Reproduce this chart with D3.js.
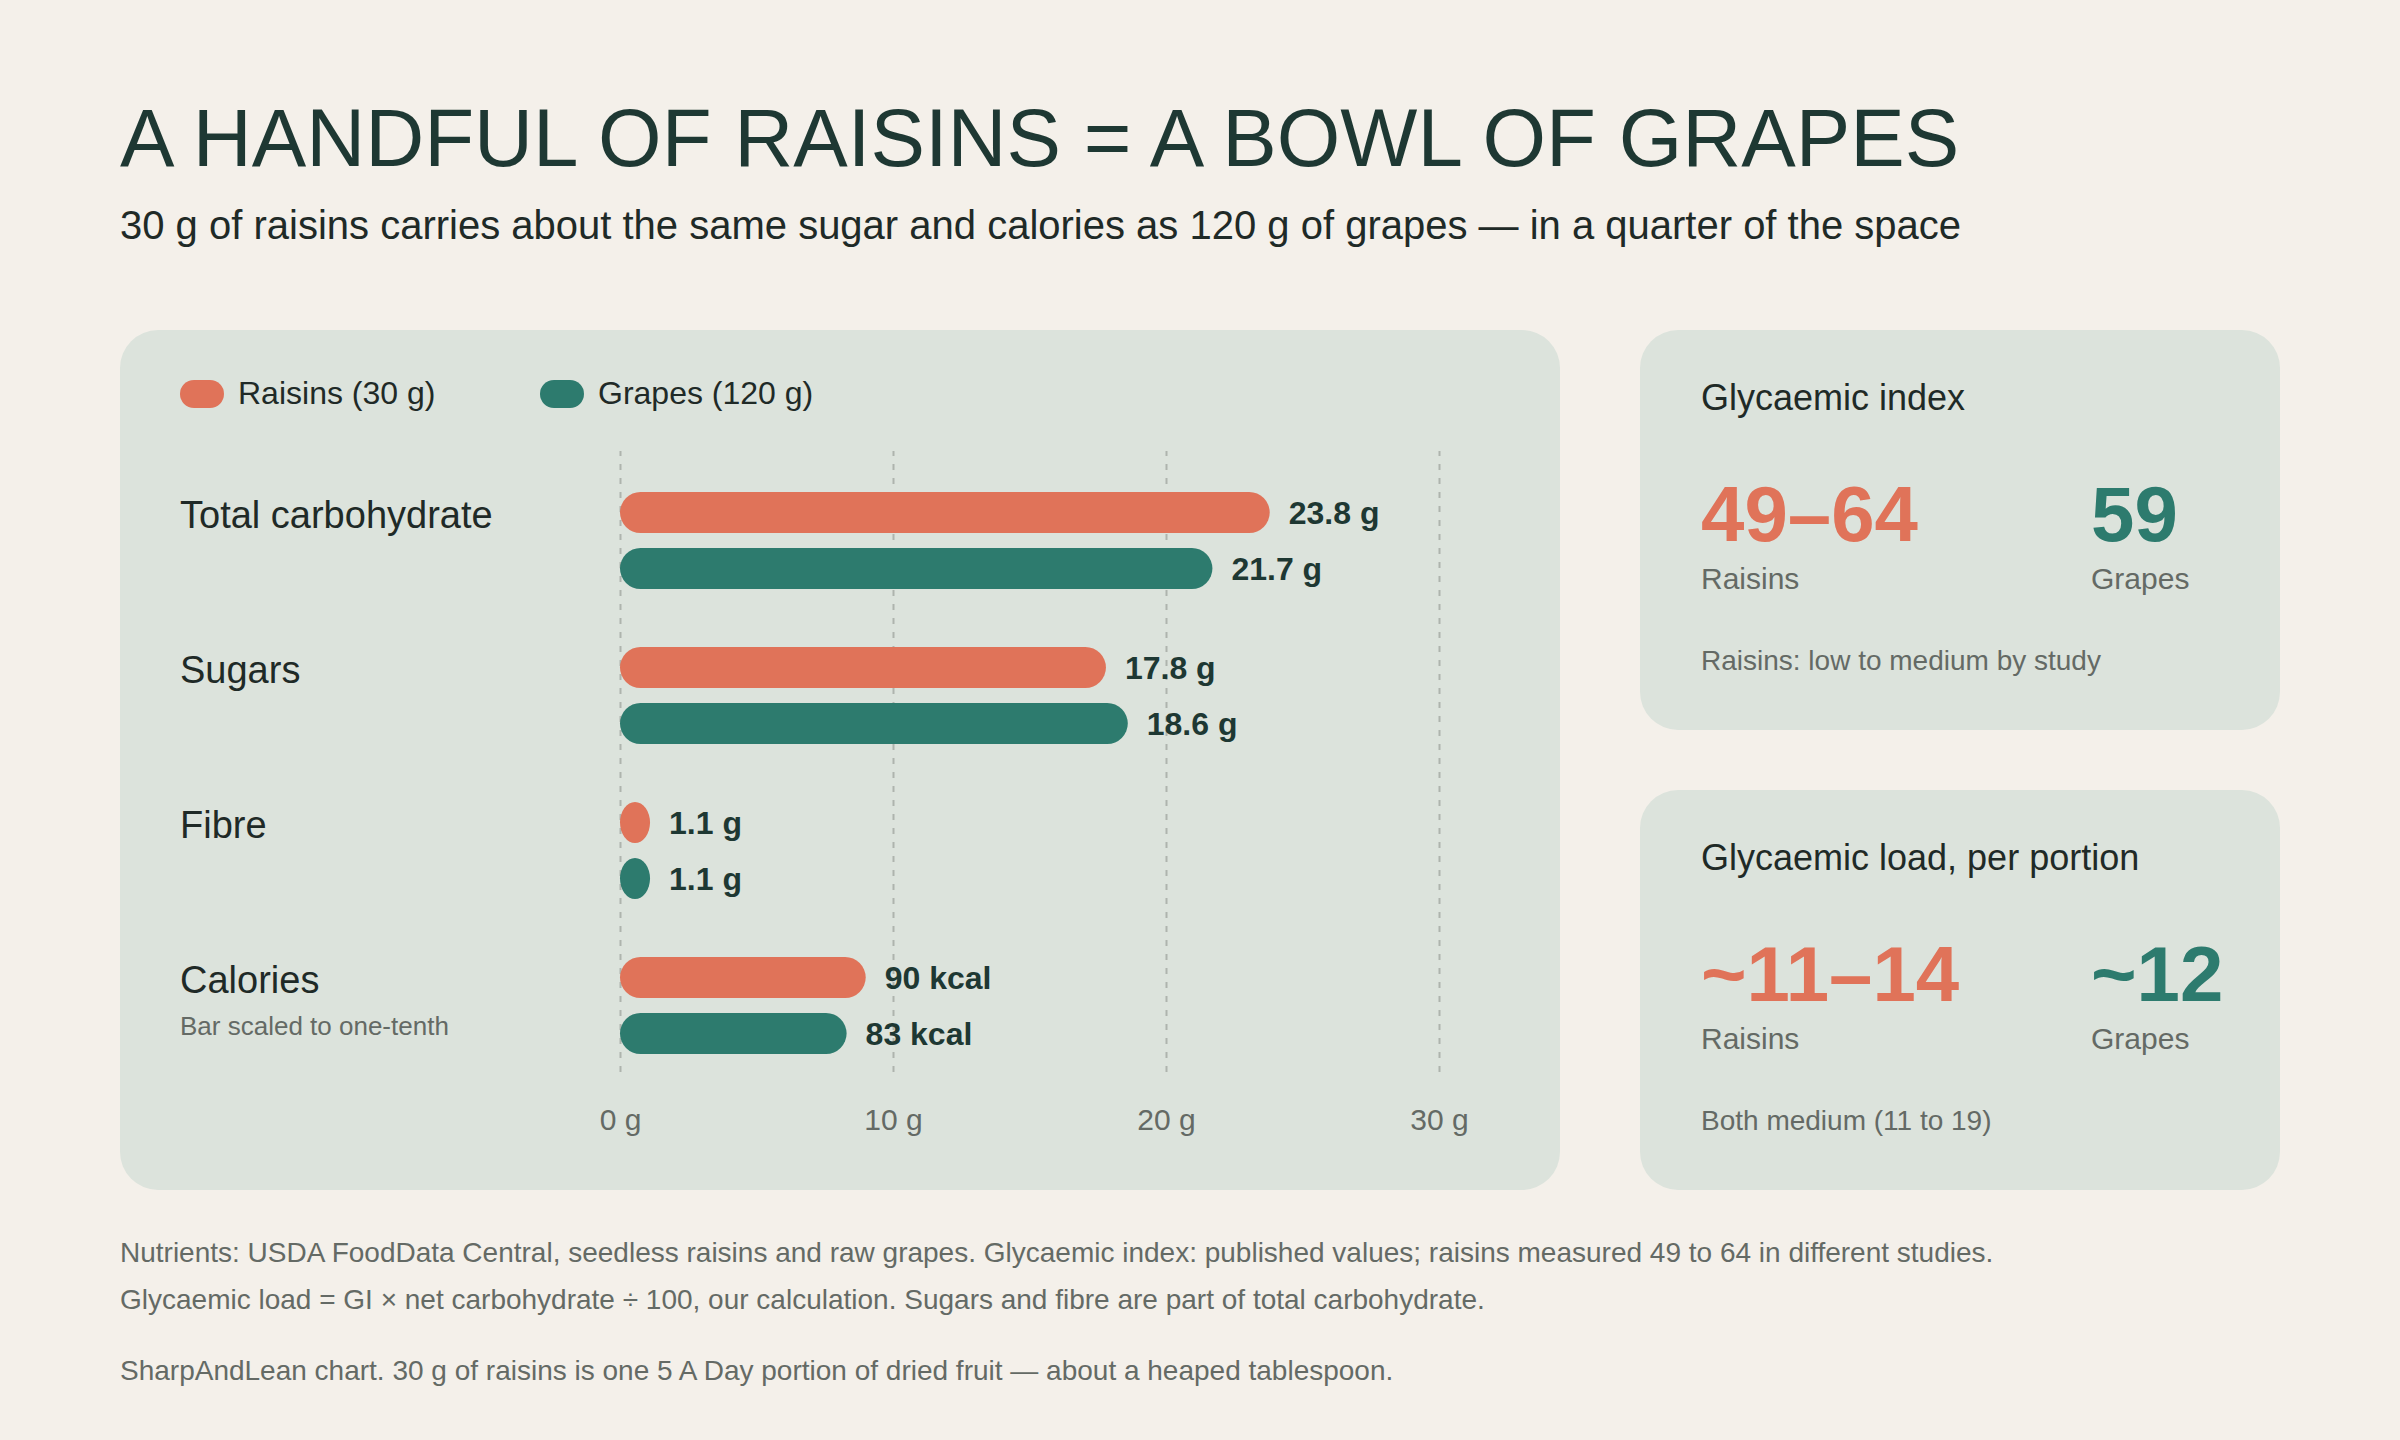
<!DOCTYPE html>
<html>
<head>
<meta charset="utf-8">
<script src="https://cdn.jsdelivr.net/npm/d3@7"></script>
<style>
  html, body { margin: 0; padding: 0; background: #F4F0EA; }
  svg { display: block; }
  text { font-family: "Liberation Sans", Arial, sans-serif; }
</style>
</head>
<body>
<svg id="chart" width="2400" height="1440"></svg>
<script>
// ---- Data ----
const categories = ["Total carbohydrate", "Sugars", "Fibre", "Calories"];
const categoryNotes = ["", "", "", "Bar scaled to one-tenth"];
const raisinValues = [23.8, 17.8, 1.1, 90];
const grapeValues = [21.7, 18.6, 1.1, 83];
const valueUnits = ["g", "g", "g", "kcal"];
const barFactors = [1, 1, 1, 0.1];
const seriesNames = ["Raisins (30 g)", "Grapes (120 g)"];
const xTicks = [0, 10, 20, 30];
const tickUnit = "g";

const cardTitles = ["Glycaemic index", "Glycaemic load, per portion"];
const cardRaisinValues = ["49–64", "~11–14"];
const cardGrapeValues = ["59", "~12"];
const cardNotes = ["Raisins: low to medium by study", "Both medium (11 to 19)"];

const titleText = "A HANDFUL OF RAISINS = A BOWL OF GRAPES";
const subtitleText = "30 g of raisins carries about the same sugar and calories as 120 g of grapes — in a quarter of the space";
const footerLines = [
  "Nutrients: USDA FoodData Central, seedless raisins and raw grapes. Glycaemic index: published values; raisins measured 49 to 64 in different studies.",
  "Glycaemic load = GI × net carbohydrate ÷ 100, our calculation. Sugars and fibre are part of total carbohydrate.",
  "SharpAndLean chart. 30 g of raisins is one 5 A Day portion of dried fruit — about a heaped tablespoon."
];

// ---- Style ----
const C = {
  bg: "#F4F0EA", panel: "#DCE3DC", coral: "#E07359", teal: "#2D7B6E",
  dark: "#1E3833", text: "#1F2A27", gray: "#646A65", grid: "#AEB4AD"
};

const svg = d3.select("#chart");
svg.append("rect").attr("width", 2400).attr("height", 1440).attr("fill", C.bg);

// Title & subtitle
svg.append("text").attr("x", 120).attr("y", 166)
  .attr("font-size", 81.7).attr("fill", C.dark).text(titleText);
svg.append("text").attr("x", 120).attr("y", 239)
  .attr("font-size", 40).attr("fill", C.text).text(subtitleText);

// Panels
svg.append("rect").attr("x", 120).attr("y", 330).attr("width", 1440).attr("height", 860)
  .attr("rx", 38).attr("fill", C.panel);
const cardTops = [330, 790];
svg.selectAll("rect.card").data(cardTops).join("rect").attr("class", "card")
  .attr("x", 1640).attr("y", d => d).attr("width", 640).attr("height", 400)
  .attr("rx", 38).attr("fill", C.panel);

// Legend
const legendColors = [C.coral, C.teal];
const legendX = [180, 540];
const lg = svg.selectAll("g.legend").data(seriesNames).join("g").attr("class", "legend")
  .attr("transform", (d, i) => `translate(${legendX[i]},380)`);
lg.append("rect").attr("width", 44).attr("height", 28).attr("rx", 14)
  .attr("fill", (d, i) => legendColors[i]);
lg.append("text").attr("x", 58).attr("y", 24).attr("font-size", 32)
  .attr("fill", C.text).text(d => d);

// Scales
const x = d3.scaleLinear().domain([0, 30]).range([620, 1439]);
const y = d3.scaleBand().domain(categories).range([492, 492 + 155 * categories.length]).padding(0);
const barH = 41, barGap = 56;

// Grid
const gridTop = 451, gridBottom = 1072;
const gridAxis = d3.axisBottom(x).tickValues(xTicks).tickSize(-(gridBottom - gridTop)).tickFormat("");
const gg = svg.append("g").attr("transform", `translate(0,${gridBottom})`).call(gridAxis);
gg.select(".domain").remove();
gg.selectAll(".tick line").attr("stroke", C.grid).attr("stroke-width", 2).attr("stroke-dasharray", "6 8");

// Axis labels
const labAxis = d3.axisBottom(x).tickValues(xTicks).tickSize(0).tickPadding(0)
  .tickFormat(d => `${d} ${tickUnit}`);
const la = svg.append("g").attr("transform", "translate(0,1130)").call(labAxis);
la.select(".domain").remove();
la.selectAll(".tick text").attr("dy", 0).attr("font-size", 30)
  .attr("font-family", '"Liberation Sans", Arial, sans-serif').attr("fill", C.gray);

// Category labels
const rows = categories.map((c, i) => ({
  cat: c, note: categoryNotes[i], unit: valueUnits[i], f: barFactors[i],
  vals: [raisinValues[i], grapeValues[i]]
}));
const rg = svg.selectAll("g.row").data(rows).join("g").attr("class", "row");
rg.append("text").attr("x", 180).attr("y", d => y(d.cat) + 36)
  .attr("font-size", 38).attr("fill", C.text).text(d => d.cat);
rg.filter(d => d.note).append("text").attr("x", 180).attr("y", d => y(d.cat) + 78)
  .attr("font-size", 26).attr("fill", C.gray).text(d => d.note);

// Bars
rg.each(function(d) {
  const g = d3.select(this);
  d.vals.forEach((v, k) => {
    const top = y(d.cat) + k * barGap;
    const w = x(v * d.f) - x(0);
    g.append("rect").attr("x", x(0)).attr("y", top).attr("width", w).attr("height", barH)
      .attr("rx", barH / 2).attr("ry", barH / 2).attr("fill", legendColors[k]);
    g.append("text").attr("x", x(v * d.f) + 19).attr("y", top + barH / 2 + 11)
      .attr("font-size", 32).attr("font-weight", "bold").attr("fill", C.dark)
      .text(`${v} ${d.unit}`);
  });
});

// Cards
const cards = cardTitles.map((t, i) => ({
  top: cardTops[i], title: t, r: cardRaisinValues[i], g: cardGrapeValues[i], note: cardNotes[i]
}));
const cg = svg.selectAll("g.cardtext").data(cards).join("g").attr("class", "cardtext")
  .attr("transform", d => `translate(1701,${d.top})`);
cg.append("text").attr("y", 80).attr("font-size", 36).attr("fill", C.text).text(d => d.title);
cg.append("text").attr("y", 211).attr("font-size", 78).attr("font-weight", "bold")
  .attr("fill", C.coral).text(d => d.r);
cg.append("text").attr("x", 390).attr("y", 211).attr("font-size", 78).attr("font-weight", "bold")
  .attr("fill", C.teal).text(d => d.g);
cg.append("text").attr("y", 259).attr("font-size", 30).attr("fill", C.gray).text("Raisins");
cg.append("text").attr("x", 390).attr("y", 259).attr("font-size", 30).attr("fill", C.gray).text("Grapes");
cg.append("text").attr("y", 340).attr("font-size", 28).attr("fill", C.gray).text(d => d.note);

// Footer
const footerY = [1262, 1309, 1380];
svg.selectAll("text.footer").data(footerLines).join("text").attr("class", "footer")
  .attr("x", 120).attr("y", (d, i) => footerY[i]).attr("font-size", 28)
  .attr("fill", C.gray).text(d => d);
</script>
</body>
</html>
